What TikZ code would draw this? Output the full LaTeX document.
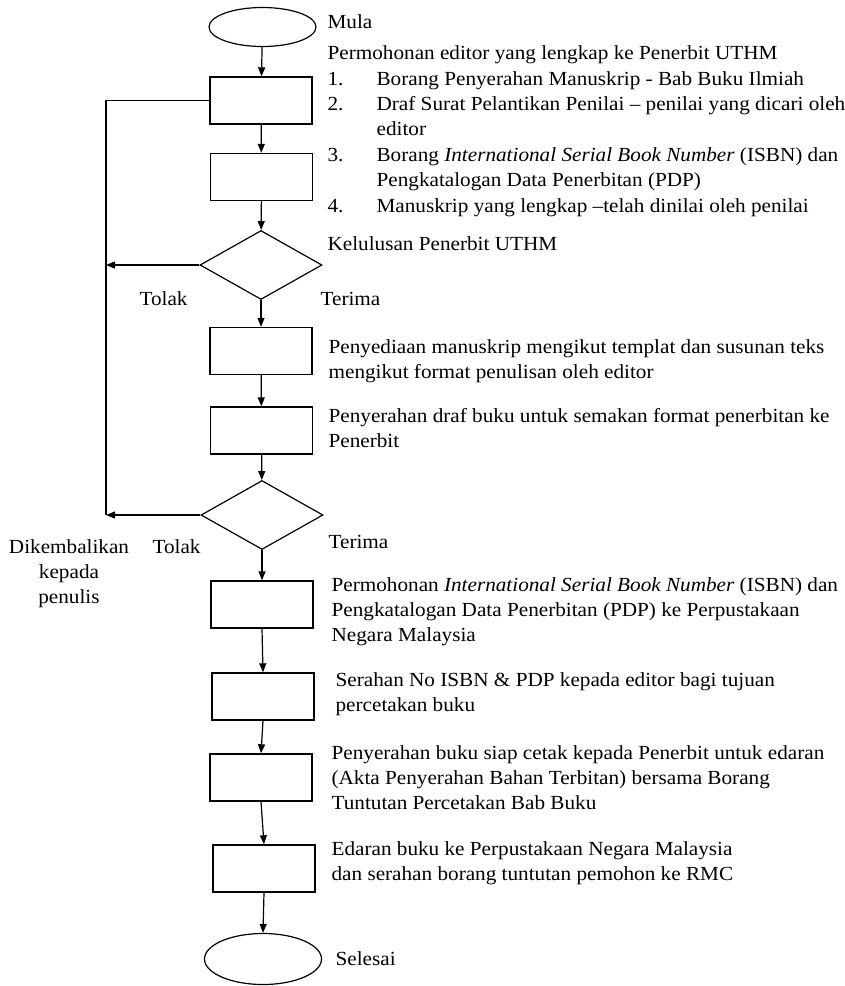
\documentclass[tikz,border=0pt]{standalone}
\usepackage{fontspec}
\setmainfont{Liberation Serif}[FakeStretch=1.06]
\usetikzlibrary{shapes.geometric,arrows.meta}
\begin{document}
\begin{tikzpicture}[x=1pt,y=-1pt,
  line width=1.2pt,
  flow/.style={-{Triangle[length=9pt,width=7pt]}},
  procbox/.style={draw,line width=1.4pt,rectangle,minimum width=102pt,minimum height=47pt,inner sep=0pt},
  termin/.style={draw,ellipse,inner sep=0pt},
  decide/.style={draw,diamond,minimum width=122pt,minimum height=69pt,inner sep=0pt},
  lbl/.style={anchor=base west,inner sep=0pt,font=\fontsize{20}{25.4}\selectfont},
  clbl/.style={anchor=base,inner sep=0pt,font=\fontsize{20}{25.4}\selectfont}]
\useasboundingbox (0,0) rectangle (844,986);

% flow shapes
\node[termin,minimum width=107pt,minimum height=39pt] (start) at (262.5,27) {};
\node[procbox] (b1) at (261,100.5) {};
\node[procbox] (b2) at (261.5,177) {};
\node[decide] (d1) at (261,265) {};
\node[procbox] (b3) at (261,351) {};
\node[procbox] (b4) at (261.5,430.5) {};
\node[decide] (d2) at (262,515) {};
\node[procbox] (b5) at (262,604.5) {};
\node[procbox] (b6) at (263,696.5) {};
\node[procbox] (b7) at (261,777.5) {};
\node[procbox] (b8) at (264,868.5) {};
\node[termin,minimum width=117pt,minimum height=51pt] (stop) at (263,959) {};

% main flow
\draw[flow] (start) -- (b1);
\draw[flow] (b1) -- (b2);
\draw[flow] (b2) -- (d1);
\draw[flow] (d1) -- (b3);
\draw[flow] (b3) -- (b4);
\draw[flow] (b4) -- (d2);
\draw[flow] (d2) -- (b5);
\draw[flow] (b5.south) -- (b6.north);
\draw[flow] (b6.south) -- (b7.north);
\draw[flow] (b7.south) -- (b8.north);
\draw[flow] (b8.south) -- (stop.north);

% return line for rejected submissions
\coordinate (rtop) at (106,100.5);
\coordinate (rmid) at (106,265);
\coordinate (rbot) at (106,515);
\draw (b1.west) -- (rtop) -- (rbot);
\draw[flow] (d1.west) -- (rmid);
\draw[flow] (d2.west) -- (rbot);

% labels
\node[lbl] (tMula) at (327,28) {Mula};
\node[lbl] (tReq) at (327,59) {Permohonan editor yang lengkap ke Penerbit UTHM};
\node[lbl] (tList) at (327,85) {\begin{tabular}[t]{@{}p{49pt}@{}l@{}}
1. & Borang Penyerahan Manuskrip - Bab Buku Ilmiah\\
2. & Draf Surat Pelantikan Penilai – penilai yang dicari oleh\\
   & editor\\
3. & Borang \textit{International Serial Book Number} (ISBN) dan\\
   & Pengkatalogan Data Penerbitan (PDP)\\
4. & Manuskrip yang lengkap –telah dinilai oleh penilai
\end{tabular}};
\node[lbl] (tLulus) at (327,250) {Kelulusan Penerbit UTHM};
\node[lbl] (tTolakA) at (139,305) {Tolak};
\node[lbl] (tTerimaA) at (320,305) {Terima};
\node[lbl] (tS3) at (328,353) {\begin{tabular}[t]{@{}l@{}}
Penyediaan manuskrip mengikut templat dan susunan teks\\
mengikut format penulisan oleh editor\end{tabular}};
\node[lbl] (tS4) at (328,422) {\begin{tabular}[t]{@{}l@{}}
Penyerahan draf buku untuk semakan format penerbitan ke\\
Penerbit\end{tabular}};
\node[lbl] (tTerimaB) at (328,548) {Terima};
\node[lbl] (tTolakB) at (152,553) {Tolak};
\node[clbl] (tBack) at (69,553) {\begin{tabular}[t]{@{}c@{}}
Dikembalikan\\kepada\\penulis\end{tabular}};
\node[lbl] (tS5) at (331,591) {\begin{tabular}[t]{@{}l@{}}
Permohonan \textit{International Serial Book Number} (ISBN) dan\\
Pengkatalogan Data Penerbitan (PDP) ke Perpustakaan\\
Negara Malaysia\end{tabular}};
\node[lbl] (tS6) at (335,686) {\begin{tabular}[t]{@{}l@{}}
Serahan No ISBN \& PDP kepada editor bagi tujuan\\
percetakan buku\end{tabular}};
\node[lbl] (tS7) at (331,759) {\begin{tabular}[t]{@{}l@{}}
Penyerahan buku siap cetak kepada Penerbit untuk edaran\\
(Akta Penyerahan Bahan Terbitan) bersama Borang\\
Tuntutan Percetakan Bab Buku\end{tabular}};
\node[lbl] (tS8) at (331,855) {\begin{tabular}[t]{@{}l@{}}
Edaran buku ke Perpustakaan Negara Malaysia\\
dan serahan borang tuntutan pemohon ke RMC\end{tabular}};
\node[lbl] (tEnd) at (335,965) {Selesai};
\end{tikzpicture}
\end{document}
